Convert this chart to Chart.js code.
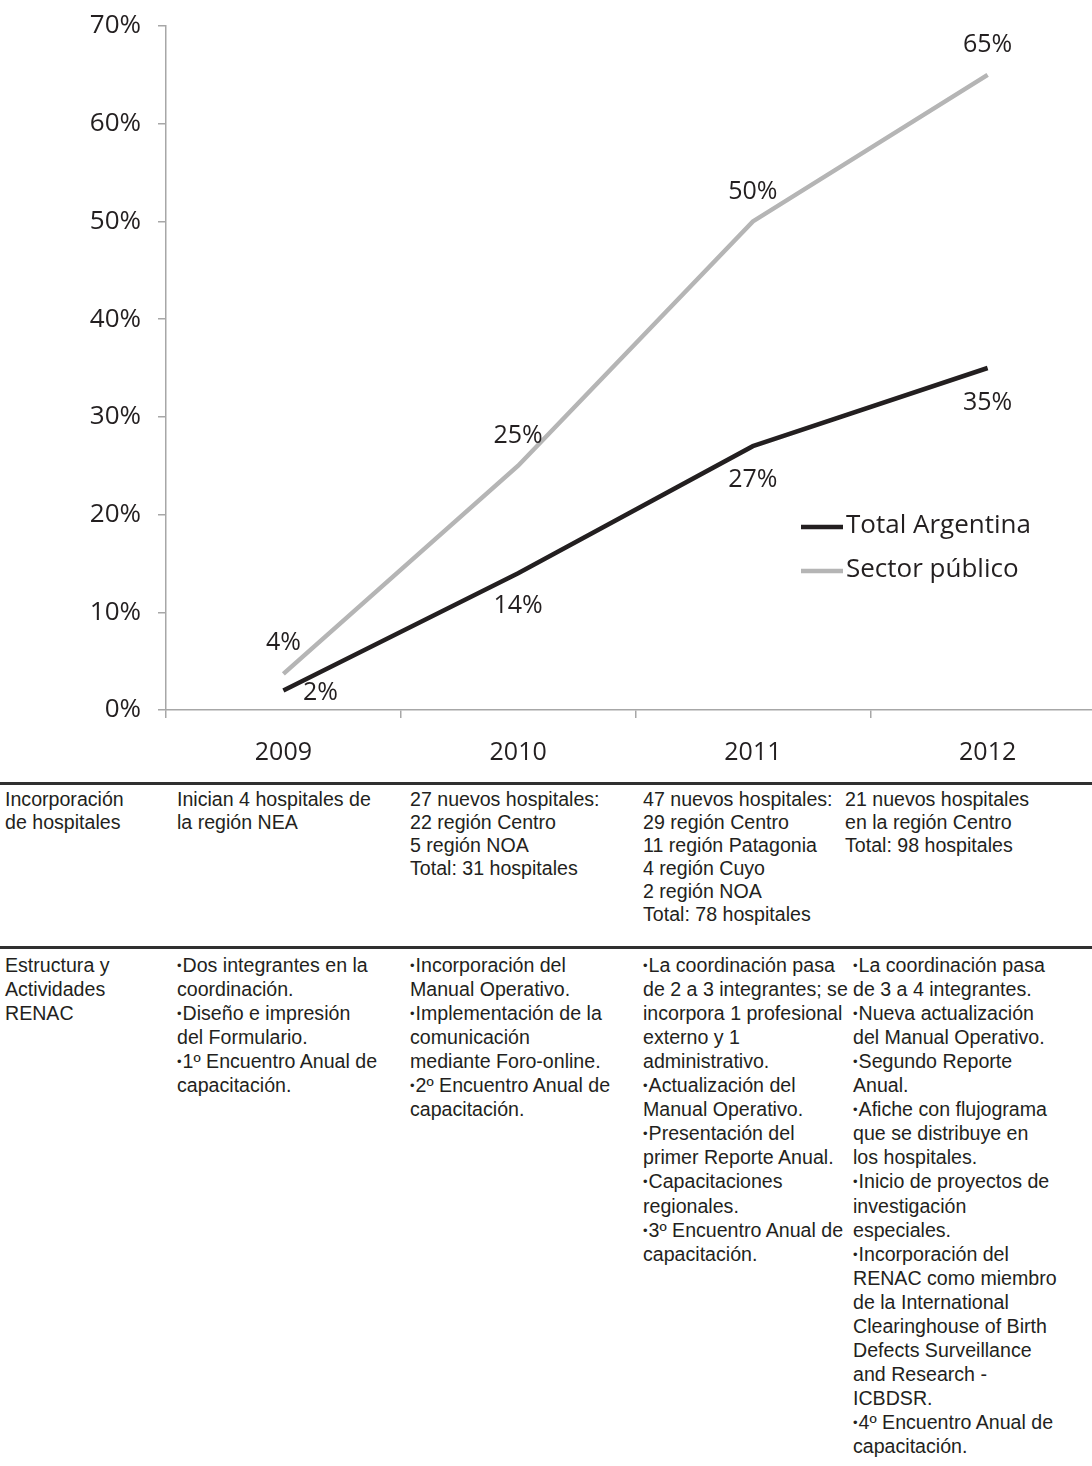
<!DOCTYPE html>
<html>
<head>
<meta charset="utf-8">
<script src="https://cdn.jsdelivr.net/npm/chart.js@4"></script>
<style>
  html, body { margin: 0; padding: 0; background: #fff; overflow: hidden; }
  body { width: 1092px; height: 1466px; position: relative; }
  #wrap { position: absolute; left: 0; top: 0; width: 1120px; height: 780px; }
  .rule { position: absolute; left: 0; width: 1092px; height: 0; border-top: 3px solid #303030; }
  .ln { position: absolute; font-family: "Liberation Sans", Arial, sans-serif; font-size: 19.6px; line-height: 24px; height: 24px; color: #231f20; white-space: nowrap; }
</style>
</head>
<body>
<div id="wrap"><canvas id="c" width="1120" height="780"></canvas></div>
<div id="table"></div>
<script>
// ---- data ----
const years = ["2009", "2010", "2011", "2012"];
const totalArgentina = [2, 14, 27, 35];
const sectorPublico = [3.7, 25, 50, 65];
const seriesNames = ["Total Argentina", "Sector público"];
const yTicks = [0, 10, 20, 30, 40, 50, 60, 70];

const rowHeaders = [
  ["Incorporación", "de hospitales"],
  ["Estructura y", "Actividades", "RENAC"]
];
const hospitalesRow = [
  ["Inician 4 hospitales de", "la región NEA"],
  ["27 nuevos hospitales:", "22 región Centro", "5 región NOA", "Total: 31 hospitales"],
  ["47 nuevos hospitales:", "29 región Centro", "11 región Patagonia", "4 región Cuyo", "2 región NOA", "Total: 78 hospitales"],
  ["21 nuevos hospitales", "en la región Centro", "Total: 98 hospitales"]
];
const actividadesRow = [
  ["•Dos integrantes en la", "coordinación.", "•Diseño e impresión", "del Formulario.", "•1º Encuentro Anual de", "capacitación."],
  ["•Incorporación del", "Manual Operativo.", "•Implementación de la", "comunicación", "mediante Foro-online.", "•2º Encuentro Anual de", "capacitación."],
  ["•La coordinación pasa", "de 2 a 3 integrantes; se", "incorpora 1 profesional", "externo y 1", "administrativo.", "•Actualización del", "Manual Operativo.", "•Presentación del", "primer Reporte Anual.", "•Capacitaciones", "regionales.", "•3º Encuentro Anual de", "capacitación."],
  ["•La coordinación pasa", "de 3 a 4 integrantes.", "•Nueva actualización", "del Manual Operativo.", "•Segundo Reporte", "Anual.", "•Afiche con flujograma", "que se distribuye en", "los hospitales.", "•Inicio de proyectos de", "investigación", "especiales.", "•Incorporación del", "RENAC como miembro", "de la International", "Clearinghouse of Birth", "Defects Surveillance", "and Research -", "ICBDSR.", "•4º Encuentro Anual de", "capacitación."]
];

// ---- table ----
const rows = [
  { rule: 782, first: 799, step: 23.0, cols: [5, 177, 410, 643, 845], header: rowHeaders[0], cells: hospitalesRow },
  { rule: 946, first: 965, step: 24.05, cols: [5, 177, 410, 643, 853], header: rowHeaders[1], cells: actividadesRow }
];
const tbl = document.getElementById('table');
function esc(s) { return s.replace(/&/g, '&amp;').replace(/</g, '&lt;'); }
function bulletize(s) { return esc(s).replace(/^•/, '<span style="font-size:13px;vertical-align:2px;margin-right:1px">•</span>'); }
rows.forEach(r => {
  const rule = document.createElement('div');
  rule.className = 'rule';
  rule.style.top = r.rule + 'px';
  tbl.appendChild(rule);
  [r.header].concat(r.cells).forEach((lines, i) => {
    lines.forEach((line, k) => {
      const d = document.createElement('div');
      d.className = 'ln';
      d.style.left = r.cols[i] + 'px';
      d.style.top = (r.first - 12 + k * r.step) + 'px';
      d.innerHTML = bulletize(line);
      tbl.appendChild(d);
    });
  });
});

// ---- chart ----
const FONT = '"Open Sans", "Noto Sans", sans-serif';
const TEXT = '#231f20';
const AXIS = '#a7a7a7';

const labelOffsets = [
  [[37, 2], [0, 33], [0, 34], [0, 35]],      // Total Argentina
  [[0, -31], [0, -30], [0, -30], [0, -30]]   // Sector público
];

const dataLabelPlugin = {
  id: 'dataLabels',
  afterDatasetsDraw(chart) {
    const ctx = chart.ctx;
    ctx.save();
    ctx.font = '25px ' + FONT;
    ctx.fillStyle = TEXT;
    ctx.textAlign = 'center';
    ctx.textBaseline = 'middle';
    chart.data.datasets.forEach((ds, i) => {
      const meta = chart.getDatasetMeta(i);
      meta.data.forEach((pt, j) => {
        const off = labelOffsets[i][j];
        ctx.fillText(Math.round(ds.data[j]) + '%', pt.x + off[0], pt.y + off[1]);
      });
    });
    ctx.restore();
  }
};

const legendPlugin = {
  id: 'customLegend',
  afterDraw(chart) {
    const ctx = chart.ctx;
    const x0 = 801, y0 = 527, gap = 44, len = 42;
    ctx.save();
    ctx.font = '26px ' + FONT;
    ctx.textBaseline = 'middle';
    ctx.textAlign = 'left';
    chart.data.datasets.forEach((ds, i) => {
      const y = y0 + i * gap;
      ctx.strokeStyle = ds.borderColor;
      ctx.lineWidth = ds.borderWidth;
      ctx.beginPath();
      ctx.moveTo(x0, y);
      ctx.lineTo(x0 + len, y);
      ctx.stroke();
      ctx.fillStyle = TEXT;
      ctx.fillText(ds.label, x0 + len + 3, y - 1);
    });
    ctx.restore();
  }
};

new Chart(document.getElementById('c'), {
  type: 'line',
  data: {
    labels: years,
    datasets: [
      { label: seriesNames[0], data: totalArgentina, borderColor: '#231f20', borderWidth: 4.5, pointRadius: 0, tension: 0, fill: false },
      { label: seriesNames[1], data: sectorPublico, borderColor: '#b5b5b5', borderWidth: 4.5, pointRadius: 0, tension: 0, fill: false }
    ]
  },
  options: {
    responsive: false,
    animation: false,
    devicePixelRatio: 1,
    layout: { padding: { top: 26, right: 15, left: 0, bottom: 0 } },
    plugins: { legend: { display: false }, tooltip: { enabled: false } },
    scales: {
      x: {
        type: 'category',
        offset: true,
        grid: { offset: true, drawOnChartArea: false, drawTicks: true, tickLength: 8, color: AXIS, lineWidth: 1.5 },
        border: { display: true, color: AXIS, width: 1.5 },
        ticks: { color: TEXT, font: { family: FONT, size: 25 }, padding: 20 },
        afterFit(scale) { scale.height = 70; }
      },
      y: {
        min: 0, max: 70,
        afterBuildTicks(scale) { scale.ticks = yTicks.map(v => ({ value: v })); },
        grid: { drawOnChartArea: false, drawTicks: true, tickLength: 8, color: AXIS, lineWidth: 1.5 },
        border: { display: true, color: AXIS, width: 1.5 },
        ticks: { color: TEXT, font: { family: FONT, size: 26 }, padding: 17, callback: v => v + '%' },
        afterFit(scale) { scale.width = 166; scale.paddingTop = 0; scale.paddingBottom = 0; }
      }
    }
  },
  plugins: [dataLabelPlugin, legendPlugin]
});
</script>
</body>
</html>
